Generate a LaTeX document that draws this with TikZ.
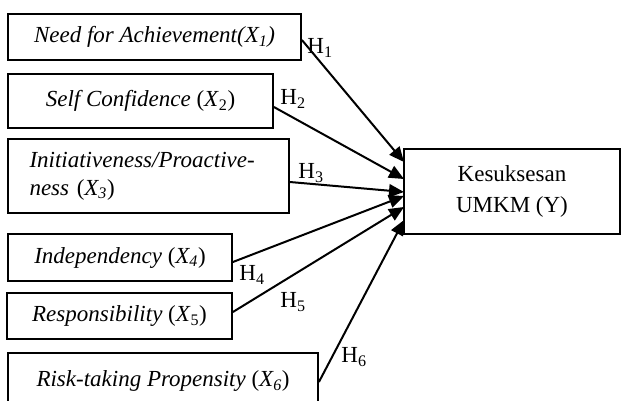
\documentclass[tikz,border=0pt]{standalone}
\usepackage{fontspec}
\setmainfont{Liberation Serif}
\usetikzlibrary{arrows.meta}
\begin{document}
\begin{tikzpicture}[x=1pt,y=-1pt,
  box/.style={draw, line width=1.8pt, inner sep=0pt, font=\fontsize{23}{28}\selectfont},
  con/.style={line width=2pt, -{Triangle[length=15pt,width=13pt]}},
  lab/.style={font=\fontsize{23}{28}\selectfont, inner sep=0pt}]
\useasboundingbox (0,0) rectangle (621,400);
\clip (0,0) rectangle (621,400);
\node[anchor=base west, font=\bfseries\fontsize{23}{28}\selectfont, inner sep=0pt] (title) at (18,-5.5) {Kerangka Konseptual};
\node[box, minimum width=293pt, minimum height=46pt] (b1) at (154.5,37) {\textit{Need for Achievement(X\textsubscript{1})}};
\node[box, minimum width=265pt, minimum height=54pt] (b2) at (140.5,101) {\textit{Self Confidence} (\textit{X}\textsubscript{2})};
\node[box, minimum width=281pt, minimum height=74pt, text width=238pt, align=left] (b3) at (148.5,176) {\textit{Initiativeness/Proactive-}\\\textit{ness} (\textit{X\textsubscript{3}})};
\node[box, minimum width=224pt, minimum height=47pt] (b4) at (120,257.5) {\textit{Independency} (\textit{X\textsubscript{4}})};
\node[box, minimum width=225pt, minimum height=46pt] (b5) at (119.5,316) {\textit{Responsibility} (\textit{X}\textsubscript{5})};
\node[box, minimum width=310pt, minimum height=56pt] (b6) at (163,381) {\textit{Risk-taking Propensity} (\textit{X\textsubscript{6}})};
\node[box, minimum width=216pt, minimum height=85pt, align=center, font=\fontsize{23}{31}\selectfont] (y) at (512,191.5) {Kesuksesan\\UMKM (Y)};
\coordinate (t1) at (404,162);
\coordinate (t2) at (404,179);
\coordinate (t3) at (404,192);
\coordinate (t4) at (404,196);
\coordinate (t5) at (404,207);
\coordinate (t6) at (404,220);
\draw[con] ([yshift=-3pt]b1.east) -- (t1);
\draw[con] ([yshift=-6pt]b2.east) -- (t2);
\draw[con] ([yshift=-6pt]b3.east) -- (t3);
\draw[con] ([yshift=-4.5pt]b4.east) -- (t4);
\draw[con] ([yshift=4pt]b5.east) -- (t5);
\draw[con] ([yshift=-1pt]b6.east) -- (t6);
\node[lab] (h1) at (320,48) {H\textsubscript{1}};
\node[lab] (h2) at (293,99) {H\textsubscript{2}};
\node[lab] (h3) at (311,173) {H\textsubscript{3}};
\node[lab] (h4) at (252,275) {H\textsubscript{4}};
\node[lab] (h5) at (293,302) {H\textsubscript{5}};
\node[lab] (h6) at (354,357) {H\textsubscript{6}};
\end{tikzpicture}
\end{document}
